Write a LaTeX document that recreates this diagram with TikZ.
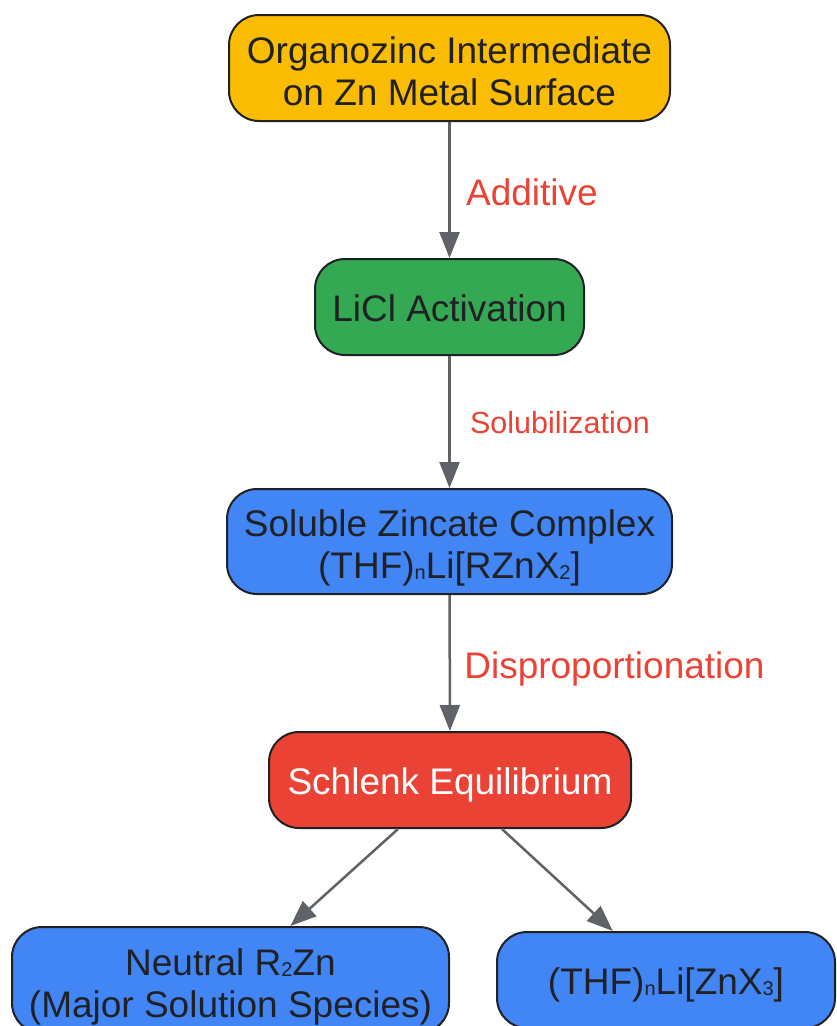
\documentclass[tikz,border=0pt]{standalone}
\usepackage{fontspec}
\setmainfont{Liberation Sans}
\usetikzlibrary{arrows.meta}

\definecolor{zincyellow}{HTML}{FBBC04}
\definecolor{liclgreen}{HTML}{34A853}
\definecolor{zincblue}{HTML}{4285F4}
\definecolor{schlenkred}{HTML}{EA4335}
\definecolor{inkdark}{HTML}{202124}
\definecolor{arrowgray}{HTML}{5F6368}

% small subscript sitting near the baseline
\newcommand{\chemsub}[1]{\raisebox{-1pt}{\fontsize{20}{20}\selectfont #1}}

\begin{document}
\begin{tikzpicture}[x=1pt, y=-1pt,
        box/.style={draw=inkdark, line width=2pt, rounded corners=30pt, align=center,
            text=inkdark, inner sep=0pt, font=\fontsize{37}{42}\selectfont},
        oneline/.style={text height=36pt, text depth=7pt},
        twoline/.style={text height=82pt, text depth=8pt},
        flow/.style={draw=arrowgray, line width=2.5pt, -{Triangle[width=20pt,length=26pt]}},
        steplabel/.style={text=schlenkred, anchor=west, font=\fontsize{37}{42}\selectfont}]
        \useasboundingbox (0,0) rectangle (836,1026);
        \clip (0,0) rectangle (836,1026);

        \node[box, twoline, fill=zincyellow, minimum width=441pt, minimum height=106pt] (organo) at (449.5,68)
            {Organozinc Intermediate\\on Zn Metal Surface};
        \node[box, oneline, fill=liclgreen, minimum width=269pt, minimum height=96pt] (licl) at (449.5,307)
            {LiCl Activation};
        \node[box, twoline, fill=zincblue, minimum width=445pt, minimum height=105pt] (zincate) at (449.5,541.5)
            {Soluble Zincate Complex\\(THF)\chemsub{n}Li[RZnX\chemsub{2}]};
        \node[box, oneline, fill=schlenkred, text=white, minimum width=362pt, minimum height=96pt] (schlenk) at (450,780)
            {Schlenk Equilibrium};
        \node[box, twoline, fill=zincblue, minimum width=437pt, minimum height=106pt] (neutral) at (230.5,980)
            {Neutral R\chemsub{2}Zn\\(Major Solution Species)};
        \node[box, oneline, fill=zincblue, minimum width=338pt, minimum height=96pt] (lizincate) at (666,980)
            {(THF)\chemsub{n}Li[ZnX\chemsub{3}]};

        \draw[flow] (organo) -- (licl) node[midway, steplabel, xshift=12pt, yshift=-2pt] {Additive};
        \draw[flow] (licl) -- (zincate)
            node[midway, steplabel, xshift=16pt, yshift=-1pt, font=\fontsize{30.5}{36}\selectfont] {Solubilization};
        \draw[flow] (zincate) -- (schlenk) node[midway, steplabel, xshift=10pt, yshift=-6pt] {Disproportionation};

        \draw[flow] ([xshift=-52pt]schlenk.south) -- (neutral);
        \draw[flow] ([xshift=52pt]schlenk.south) -- (lizincate);
    \end{tikzpicture}
\end{document}
